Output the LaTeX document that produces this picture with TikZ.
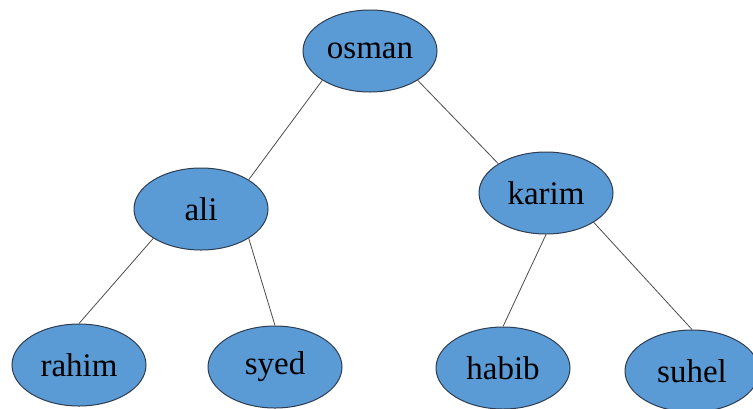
\documentclass[tikz,border=0pt]{standalone}
\usepackage{fontspec}
\setmainfont{Liberation Serif}
\usepackage{tikz}
\usetikzlibrary{shapes.geometric}
\definecolor{nodeblue}{RGB}{91,155,213}
\definecolor{nodeline}{RGB}{45,60,80}

\begin{document}
\begin{tikzpicture}[x=0.5pt,y=-0.5pt]
	\tikzset{person/.style={ellipse,draw=nodeline,fill=nodeblue,line width=0.5pt,inner sep=0pt,minimum width=67pt,minimum height=41pt,font=\fontsize{16.5}{20}\selectfont}}
	\useasboundingbox (0,0) rectangle (753,408);
	\node[person] (osman) at (370,51) {osman};
	\node[person] (ali) at (201,209) {ali};
	\node[person] (karim) at (546,193) {karim};
	\node[person] (rahim) at (79,365) {rahim};
	\node[person] (syed) at (275,367) {syed};
	\node[person] (habib) at (503,368) {habib};
	\node[person] (suhel) at (692,371) {suhel};
	\path[draw=black!70,line width=0.4pt]
		(osman.south west) edge node {} (ali.north east)
		(osman.south east) edge node {} (karim.north west)
		(ali.south west) edge node {} (rahim.north)
		(ali.south east) edge node {} (syed.north)
		(karim.south) edge node {} (habib.north)
		(karim.south east) edge node {} (suhel.north);
\end{tikzpicture}
\end{document}
